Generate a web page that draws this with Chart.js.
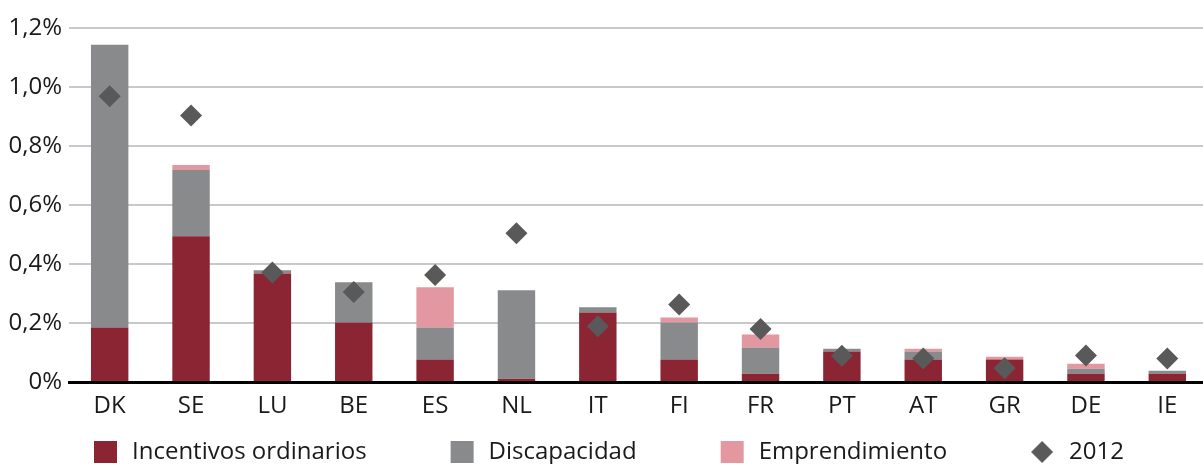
<!DOCTYPE html>
<html lang="es">
<head>
<meta charset="utf-8">
<title>Incentivos a la contratación (% PIB)</title>
<script src="https://cdn.jsdelivr.net/npm/chart.js@4.4.1/dist/chart.umd.min.js"></script>
<style>
  html, body { margin: 0; padding: 0; background: #fff; overflow: hidden; }
  #wrap { width: 1219px; height: 464px; }
</style>
</head>
<body>
<div id="wrap"><canvas id="chart" width="1219" height="464"></canvas></div>
<script>
// Gasto en incentivos a la contratación, % del PIB, por país
const categories = ['DK', 'SE', 'LU', 'BE', 'ES', 'NL', 'IT', 'FI', 'FR', 'PT', 'AT', 'GR', 'DE', 'IE'];
const incentivosOrdinarios = [0.185, 0.494, 0.368, 0.202, 0.076, 0.011, 0.236, 0.076, 0.028, 0.103, 0.076, 0.076, 0.028, 0.028];
const discapacidad = [0.958, 0.225, 0.011, 0.136, 0.109, 0.300, 0.017, 0.126, 0.089, 0.010, 0.027, 0.000, 0.017, 0.010];
const emprendimiento = [0.000, 0.017, 0.000, 0.000, 0.136, 0.000, 0.000, 0.017, 0.044, 0.000, 0.010, 0.010, 0.017, 0.000];
const total2012 = [0.969, 0.903, 0.371, 0.305, 0.363, 0.504, 0.189, 0.263, 0.180, 0.089, 0.080, 0.047, 0.090, 0.080];
const yTickLabels = ['0%', '0,2%', '0,4%', '0,6%', '0,8%', '1,0%', '1,2%'];

const COLORS = {
  ordinarios: '#8b2533',
  discapacidad: '#898a8c',
  emprendimiento: '#e397a1',
  marker: '#595959',
  grid: '#c9c9c9',
  text: '#1a1a1a'
};

// Legend markers: a wide transparent tile with the symbol at its right end,
// so the tile width also provides the spacing in front of each symbol.
function legendTile(kind, color) {
  const c = document.createElement('canvas');
  c.width = 92; c.height = 24;
  const g = c.getContext('2d');
  g.fillStyle = color;
  if (kind === 'square') {
    g.fillRect(66, 1, 23, 22);
  } else {
    const cx = 77, cy = 12, r = 11;
    g.beginPath();
    g.moveTo(cx - r, cy); g.lineTo(cx, cy - r); g.lineTo(cx + r, cy); g.lineTo(cx, cy + r);
    g.closePath(); g.fill();
  }
  return c;
}

// Moves the legend row right so it starts under the plot area rather than at the canvas edge.
const legendOffset = {
  id: 'legendOffset',
  afterLayout(chart) { if (chart.legend) chart.legend.left += 10; }
};

Chart.defaults.font.family = "'Open Sans', sans-serif";
Chart.defaults.font.size = 24;
Chart.defaults.color = COLORS.text;

new Chart(document.getElementById('chart'), {
  data: {
    labels: categories,
    datasets: [
      {
        type: 'line', label: '2012', data: total2012, order: -1,
        showLine: false, pointStyle: 'rectRot', pointRadius: 11,
        pointBackgroundColor: COLORS.marker, pointBorderWidth: 0,
        backgroundColor: COLORS.marker, borderColor: COLORS.marker
      },
      { type: 'bar', label: 'Incentivos ordinarios', data: incentivosOrdinarios, backgroundColor: COLORS.ordinarios, stack: 's' },
      { type: 'bar', label: 'Discapacidad', data: discapacidad, backgroundColor: COLORS.discapacidad, stack: 's' },
      { type: 'bar', label: 'Emprendimiento', data: emprendimiento, backgroundColor: COLORS.emprendimiento, stack: 's' }
    ]
  },
  plugins: [legendOffset],
  options: {
    responsive: false,
    devicePixelRatio: 1,
    animation: false,
    events: [],
    layout: { padding: { top: 28, left: 0, right: 0, bottom: 0 } },
    datasets: { bar: { barPercentage: 0.46, categoryPercentage: 1.0, borderWidth: 0 } },
    scales: {
      x: {
        stacked: true,
        z: 1,
        grid: { display: false, drawTicks: false },
        border: { display: true, color: '#000', width: 3 },
        ticks: { padding: 10, color: COLORS.text, maxRotation: 0 },
        afterFit: (s) => { s.height = 40; }
      },
      y: {
        stacked: true,
        min: 0, max: 1.2,
        grid: { color: COLORS.grid, lineWidth: 2, drawTicks: false },
        border: { display: false },
        ticks: {
          stepSize: 0.2, padding: 7, color: COLORS.text,
          callback: (v, i) => yTickLabels[i]
        },
        afterFit: (s) => { s.width = 69; }
      }
    },
    plugins: {
      tooltip: { enabled: false },
      legend: {
        position: 'bottom',
        align: 'start',
        maxHeight: 42,
        labels: {
          usePointStyle: true,
          pointStyleWidth: 92,
          boxHeight: 22,
          padding: 18,
          color: COLORS.text,
          generateLabels: () => [
            { text: 'Incentivos ordinarios', pointStyle: legendTile('square', COLORS.ordinarios), fillStyle: COLORS.ordinarios, strokeStyle: COLORS.ordinarios, lineWidth: 0, fontColor: COLORS.text, hidden: false, datasetIndex: 1 },
            { text: 'Discapacidad', pointStyle: legendTile('square', COLORS.discapacidad), fillStyle: COLORS.discapacidad, strokeStyle: COLORS.discapacidad, lineWidth: 0, fontColor: COLORS.text, hidden: false, datasetIndex: 2 },
            { text: 'Emprendimiento', pointStyle: legendTile('square', COLORS.emprendimiento), fillStyle: COLORS.emprendimiento, strokeStyle: COLORS.emprendimiento, lineWidth: 0, fontColor: COLORS.text, hidden: false, datasetIndex: 3 },
            { text: '2012', pointStyle: legendTile('diamond', COLORS.marker), fillStyle: COLORS.marker, strokeStyle: COLORS.marker, lineWidth: 0, fontColor: COLORS.text, hidden: false, datasetIndex: 0 }
          ]
        }
      }
    }
  }
});
</script>
</body>
</html>
